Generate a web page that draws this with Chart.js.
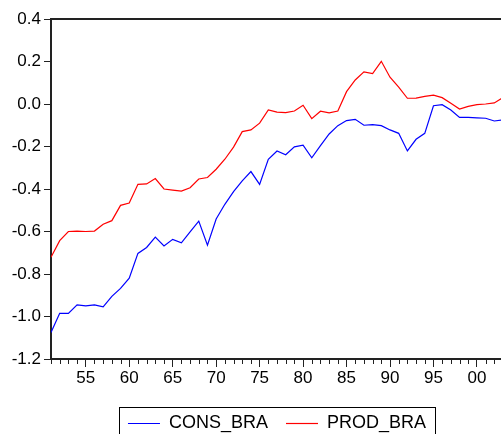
<!DOCTYPE html>
<html>
<head>
<meta charset="utf-8">
<script src="https://cdn.jsdelivr.net/npm/chart.js@4.4.1/dist/chart.umd.min.js"></script>
<style>
  html, body { margin: 0; padding: 0; background: #fff; overflow: hidden; }
  #wrap { position: relative; width: 503px; height: 434px; }
</style>
</head>
<body>
<div id="wrap"><canvas id="chart"></canvas></div>
<script>
// series values, one per year 1951..2003
var years = [];
for (var y = 1951; y <= 2003; y++) years.push(y);

var seriesNames = ['CONS_BRA', 'PROD_BRA'];
var seriesColors = ['#0000ff', '#ff0000'];

var consBra = [
	-1.075, -0.985, -0.985, -0.945, -0.950, -0.945, -0.955, -0.905, -0.868, -0.820,
	-0.703, -0.675, -0.626, -0.668, -0.637, -0.653, -0.602, -0.551, -0.664, -0.541,
	-0.472, -0.412, -0.362, -0.318, -0.378, -0.260, -0.221, -0.239, -0.202, -0.194,
	-0.253, -0.196, -0.141, -0.102, -0.078, -0.072, -0.100, -0.097, -0.102, -0.122,
	-0.138, -0.221, -0.166, -0.138, -0.008, -0.003, -0.028, -0.063, -0.063, -0.065,
	-0.067, -0.080, -0.075
];

var prodBra = [
	-0.721, -0.643, -0.600, -0.598, -0.600, -0.598, -0.566, -0.549, -0.477, -0.466,
	-0.378, -0.376, -0.351, -0.400, -0.405, -0.410, -0.394, -0.353, -0.346, -0.307,
	-0.260, -0.203, -0.130, -0.122, -0.090, -0.028, -0.038, -0.041, -0.033, -0.006,
	-0.069, -0.034, -0.042, -0.033, 0.058, 0.113, 0.151, 0.143, 0.201, 0.126,
	0.079, 0.027, 0.028, 0.036, 0.042, 0.030, 0.003, -0.024, -0.011, -0.003,
	0.000, 0.005, 0.030
];

var yMin = -1.2, yMax = 0.4, yStep = 0.2;
var majorYearStep = 5;

var FONT = '"Liberation Sans", Arial, sans-serif';

let toPoints = function(vals) {
	return years.map(function(yr, i) { return { x: yr, y: vals[i] }; });
};

// frame on top/right, minor year ticks and the boxed legend
var framePlugin = {
	id: 'frame',
	afterDraw: function(chart) {
		var ctx = chart.ctx;
		var area = chart.chartArea;
		var xs = chart.scales.x;
		ctx.save();

		ctx.strokeStyle = '#222';
		ctx.lineWidth = 2;
		ctx.beginPath();
		ctx.moveTo(area.left, area.top);
		ctx.lineTo(area.right, area.top);
		ctx.lineTo(area.right, area.bottom);
		ctx.stroke();

		// minor ticks, one per year
		ctx.lineWidth = 1;
		ctx.beginPath();
		for (var i = 0; i < years.length; i++) {
			if (years[i] % majorYearStep === 0) continue;
			var px = Math.round(xs.getPixelForValue(years[i])) + 0.5;
			ctx.moveTo(px, area.bottom);
			ctx.lineTo(px, area.bottom + 5);
		}
		ctx.stroke();

		// legend
		ctx.font = '18px ' + FONT;
		ctx.textBaseline = 'middle';
		var sample = 32, gap = 9, pad = 18;
		var widths = seriesNames.map(function(n) { return sample + gap + ctx.measureText(n).width; });
		var total = widths.reduce(function(a, b) { return a + b; }, 0) + pad * (widths.length - 1);
		var x0 = (area.left + area.right) / 2 - total / 2;
		var ly = area.bottom + 64.5;

		ctx.strokeStyle = '#000';
		ctx.lineWidth = 1;
		ctx.strokeRect(Math.round(x0 - 9) + 0.5, Math.round(area.bottom + 48) + 0.5, Math.round(total + 18), 40);

		var x = x0;
		for (var k = 0; k < seriesNames.length; k++) {
			ctx.strokeStyle = seriesColors[k];
			ctx.lineWidth = 1.2;
			ctx.beginPath();
			ctx.moveTo(x, ly);
			ctx.lineTo(x + sample, ly);
			ctx.stroke();
			ctx.fillStyle = '#000';
			ctx.fillText(seriesNames[k], x + sample + gap, ly);
			x += widths[k] + pad;
		}
		ctx.restore();
	}
};

var ctx = document.getElementById('chart');

new Chart(ctx, {
	type: 'line',
	data: {
		datasets: [{
			label: seriesNames[0],
			data: toPoints(consBra),
			borderColor: seriesColors[0],
			borderWidth: 1.2,
			pointRadius: 0,
			fill: false
		}, {
			label: seriesNames[1],
			data: toPoints(prodBra),
			borderColor: seriesColors[1],
			borderWidth: 1.2,
			pointRadius: 0,
			fill: false
		}]
	},
	options: {
		responsive: true,
		maintainAspectRatio: false,
		animation: false,
		layout: { padding: { top: 19, left: 0, right: 0, bottom: 0 } },
		plugins: {
			legend: { display: false },
			tooltip: { enabled: false }
		},
		scales: {
			x: {
				type: 'linear',
				min: years[0],
				max: years[years.length - 1],
				afterBuildTicks: function(scale) {
					scale.ticks = scale.ticks.filter(function(t) { return t.value % majorYearStep === 0; });
				},
				afterFit: function(scale) { scale.height = 75; },
				grid: {
					drawOnChartArea: false,
					drawTicks: true,
					tickLength: 8,
					tickColor: '#222',
					tickWidth: 1
				},
				border: { display: true, color: '#222', width: 2 },
				ticks: {
					stepSize: 1,
					autoSkip: false,
					maxRotation: 0,
					padding: 1,
					color: '#000',
					font: { family: FONT, size: 17 },
					callback: function(v) { return String(v % 100).padStart(2, '0'); }
				}
			},
			y: {
				min: yMin,
				max: yMax,
				afterFit: function(scale) { scale.width = 51; },
				grid: {
					drawOnChartArea: false,
					drawTicks: true,
					tickLength: 7,
					tickColor: '#222',
					tickWidth: 1
				},
				border: { display: true, color: '#222', width: 2 },
				ticks: {
					stepSize: yStep,
					padding: 3,
					color: '#000',
					font: { family: FONT, size: 17 },
					callback: function(v) { return Math.abs(v) < 1e-9 ? '0.0' : v.toFixed(1); }
				}
			}
		}
	},
	plugins: [framePlugin]
});
</script>
</body>
</html>
